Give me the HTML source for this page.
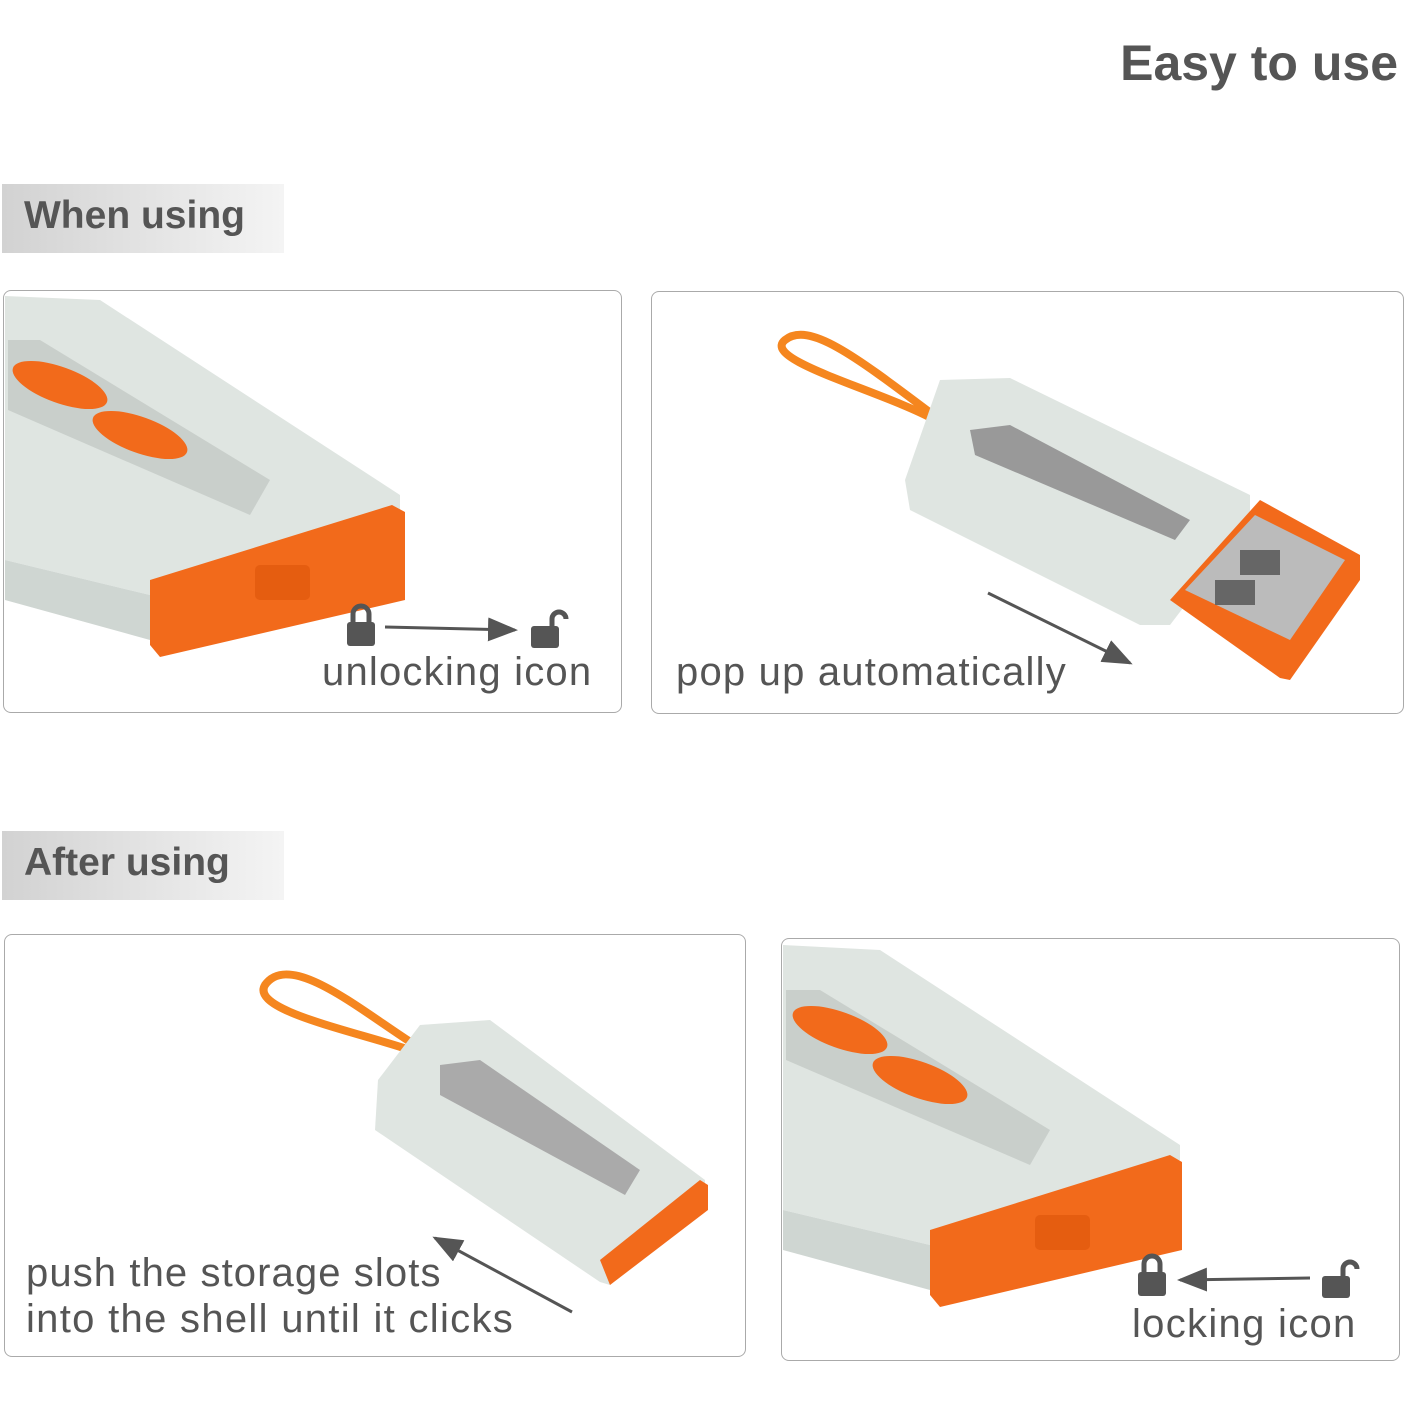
<!DOCTYPE html>
<html><head><meta charset="utf-8"><style>
html,body{margin:0;padding:0;background:#fff;}
body{width:1406px;height:1406px;position:relative;overflow:hidden;font-family:"Liberation Sans",sans-serif;}
.t{position:absolute;color:#555;white-space:nowrap;}
.lab{position:absolute;left:2px;width:282px;height:69px;background:linear-gradient(90deg,#d2d2d2,#f4f4f4);}
.lab span{position:absolute;left:22px;top:10px;font-size:39px;font-weight:bold;color:#555;}
.p{position:absolute;border:1.5px solid #aaa;border-radius:8px;box-sizing:border-box;}
svg{position:absolute;left:0;top:0;}
</style></head><body>
<div class="t" style="right:8px;top:34px;font-size:50px;font-weight:bold;">Easy to use</div>
<div class="lab" style="top:184px"><span>When using</span></div>
<div class="lab" style="top:831px"><span>After using</span></div>
<div class="p" style="left:3px;top:290px;width:619px;height:423px"></div>
<div class="p" style="left:651px;top:291px;width:753px;height:423px"></div>
<div class="p" style="left:4px;top:934px;width:742px;height:423px"></div>
<div class="p" style="left:781px;top:938px;width:619px;height:423px"></div>
<svg width="1406" height="1406" viewBox="0 0 1406 1406">
<defs><marker id="a" markerWidth="10" markerHeight="8" refX="9" refY="4" orient="auto"><path d="M0,0 L10,4 L0,8 z" fill="#555"/></marker></defs>
<polygon points="5,296 100,300 400,495 400,510 150,595 5,560" fill="#dfe5e1"/>
<polygon points="5,560 150,595 150,640 5,600" fill="#cfd6d2"/>
<polygon points="8,340 40,340 270,480 250,515 8,410" fill="#c9cfcb"/>
<ellipse cx="60" cy="385" rx="50" ry="18" fill="#f26a1b" transform="rotate(20 60 385)"/>
<ellipse cx="140" cy="435" rx="50" ry="18" fill="#f26a1b" transform="rotate(20 140 435)"/>
<polygon points="150,580 392,505 405,512 405,600 160,657 150,645" fill="#f26a1b"/>
<rect x="255" y="565" width="55" height="35" rx="5" fill="#e55d10"/>
<rect x="347" y="622" width="28" height="24" rx="3" fill="#555"/><path d="M353,624 v-10 a8,8 0 0 1 16,0 v10" stroke="#555" stroke-width="5" fill="none"/>
<line x1="385" y1="627" x2="515" y2="630" stroke="#555" stroke-width="3" marker-end="url(#a)"/>
<rect x="531" y="626" width="28" height="22" rx="3" fill="#555"/><path d="M552,627 v-8 a7,7 0 0 1 14,0" stroke="#555" stroke-width="5" fill="none"/>
<path d="M935,420 C880,390 760,360 785,340 C810,320 860,360 940,420" stroke="#f5861f" stroke-width="8" fill="none"/>
<polygon points="940,380 1010,378 1250,495 1250,520 1170,625 1140,625 910,510 905,480" fill="#dfe5e1"/>
<polygon points="970,430 1010,425 1190,520 1175,540 975,455" fill="#999"/>
<polygon points="1170,600 1260,500 1360,555 1360,580 1290,680 1280,678" fill="#f26a1b"/>
<polygon points="1185,590 1255,515 1345,560 1290,640" fill="#bbb"/>
<rect x="1215" y="580" width="40" height="25" fill="#666"/><rect x="1240" y="550" width="40" height="25" fill="#666"/>
<line x1="988" y1="593" x2="1130" y2="663" stroke="#555" stroke-width="3" marker-end="url(#a)"/>
<path d="M410,1050 C350,1030 250,1010 265,985 C290,950 360,1010 415,1045" stroke="#f5861f" stroke-width="8" fill="none"/>
<polygon points="420,1025 490,1020 705,1180 705,1195 610,1285 600,1282 375,1130 378,1080" fill="#dfe5e1"/>
<polygon points="440,1065 480,1060 640,1170 625,1195 440,1095" fill="#aaa"/>
<polygon points="600,1260 700,1180 708,1185 708,1210 610,1285" fill="#f26a1b"/>
<line x1="572" y1="1312" x2="435" y2="1238" stroke="#555" stroke-width="3" marker-end="url(#a)"/>
<polygon points="783,945 880,950 1180,1145 1180,1160 930,1245 783,1210" fill="#dfe5e1"/>
<polygon points="783,1210 930,1245 930,1290 783,1250" fill="#cfd6d2"/>
<polygon points="786,990 820,990 1050,1130 1030,1165 786,1060" fill="#c9cfcb"/>
<ellipse cx="840" cy="1030" rx="50" ry="18" fill="#f26a1b" transform="rotate(20 840 1030)"/>
<ellipse cx="920" cy="1080" rx="50" ry="18" fill="#f26a1b" transform="rotate(20 920 1080)"/>
<polygon points="930,1230 1170,1155 1182,1162 1182,1250 940,1307 930,1295" fill="#f26a1b"/>
<rect x="1035" y="1215" width="55" height="35" rx="5" fill="#e55d10"/>
<rect x="1138" y="1272" width="28" height="24" rx="3" fill="#555"/><path d="M1144,1274 v-10 a8,8 0 0 1 16,0 v10" stroke="#555" stroke-width="5" fill="none"/>
<line x1="1310" y1="1278" x2="1180" y2="1280" stroke="#555" stroke-width="3" marker-end="url(#a)"/>
<rect x="1322" y="1276" width="28" height="22" rx="3" fill="#555"/><path d="M1343,1277 v-8 a7,7 0 0 1 14,0" stroke="#555" stroke-width="5" fill="none"/>
</svg>
<div class="t" style="left:322px;top:650px;font-size:40px;letter-spacing:1.2px;">unlocking icon</div>
<div class="t" style="left:676px;top:650px;font-size:40px;letter-spacing:1.2px;">pop up automatically</div>
<div class="t" style="left:26px;top:1250px;font-size:40px;line-height:46px;letter-spacing:1.1px;">push the storage slots<br><span style="letter-spacing:1.3px">into the shell until it clicks</span></div>
<div class="t" style="left:1132px;top:1302px;font-size:40px;letter-spacing:1.3px;">locking icon</div>
</body></html>
